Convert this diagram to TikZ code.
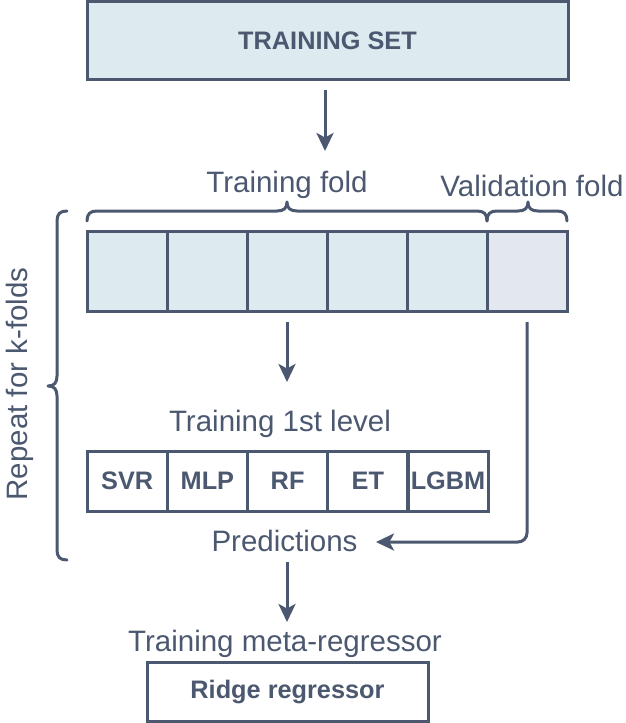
\documentclass[tikz,border=0pt]{standalone}
\usepackage{fontspec}
\setmainfont{Liberation Sans}
\usetikzlibrary{arrows.meta}
\definecolor{ink}{HTML}{4B5870}
\definecolor{cellfill}{HTML}{DDEBF0}
\definecolor{valfill}{HTML}{E3E7EF}
\tikzset{
  box/.style={draw=ink, line width=3pt, inner sep=0pt, outer sep=0pt, text=ink},
  boldtxt/.style={font=\fontsize{25.3}{29}\selectfont\bfseries},
  cellbox/.style={box, fill=cellfill, minimum width=80pt, minimum height=80pt},
  modelbox/.style={box, boldtxt, fill=white, minimum width=80pt, minimum height=60pt},
  lbl/.style={text=ink, inner sep=0pt, anchor=base, font=\fontsize{29.5}{33}\selectfont},
  conn/.style={draw=ink, line width=3pt, -{Stealth[length=18pt, width=17pt, inset=4.5pt]}},
  bracepath/.style={draw=ink, line width=3pt, line cap=round, line join=round}
}
\begin{document}
\begin{tikzpicture}[x=1pt, y=-1pt]
\useasboundingbox (0,0) rectangle (625,723);
% training set
\node[box, boldtxt, fill=cellfill, minimum width=481pt, minimum height=78pt] (trainset) at (327.5,40.5) {TRAINING SET};
\coordinate (a1s) at (325,90);
\coordinate (a1e) at (325,151);
\draw[conn] (a1s) -- (a1e);
% labels
\node[lbl] (tflbl) at (287,192) {Training fold};
\node[lbl] (vflbl) at (532,196) {Validation fold};
% braces
\draw[bracepath] (87,221) .. controls (87,214) and (90,211) .. (97,211) -- (277,211)
  .. controls (284,211) and (287,208) .. (287,202)
  .. controls (287,208) and (290,211) .. (297,211) -- (477,211)
  .. controls (484,211) and (487,214) .. (487,221);
\draw[bracepath] (487,221) .. controls (487,214) and (490,211) .. (497,211) -- (518,211)
  .. controls (525,211) and (528,208) .. (528,202)
  .. controls (528,208) and (531,211) .. (538,211) -- (557,211)
  .. controls (564,211) and (567,214) .. (567,221);
\draw[bracepath] (67,211) .. controls (60,211) and (57,214) .. (57,221) -- (57,376)
  .. controls (57,383) and (54,386) .. (48,386)
  .. controls (54,386) and (57,389) .. (57,396) -- (57,550)
  .. controls (57,557) and (60,560) .. (67,560);
% fold cells
\node[cellbox] (f1) at (127,271) {};
\node[cellbox] (f2) at (207,271) {};
\node[cellbox] (f3) at (287,271) {};
\node[cellbox] (f4) at (367,271) {};
\node[cellbox] (f5) at (447,271) {};
\node[cellbox, fill=valfill] (f6) at (527,271) {};
% arrow to training 1st level
\coordinate (a2e) at (287,382);
\draw[conn] ([yshift=-11pt]f3.south) -- (a2e);
\node[lbl] (l1lbl) at (280,431) {Training 1st level};
% models
\node[modelbox] (m1) at (127.2,481) {SVR};
\node[modelbox] (m2) at (207.4,481) {MLP};
\node[modelbox] (m3) at (287.6,481) {RF};
\node[modelbox] (m4) at (367.8,481) {ET};
\node[modelbox] (m5) at (448,481) {LGBM};
% predictions
\node[lbl] (pred) at (284.5,551) {Predictions};
\coordinate (pe) at (376,542);
\draw[conn, rounded corners=9pt] ([yshift=-11pt]f6.south) |- (pe);
% meta
\coordinate (a3s) at (287,562);
\coordinate (a3e) at (287,622);
\draw[conn] (a3s) -- (a3e);
\node[lbl] (metalbl) at (285,651) {Training meta-regressor};
\node[box, boldtxt, fill=white, minimum width=281pt, minimum height=59pt] (ridge) at (287.5,692) {Ridge regressor};
% repeat label
\node[lbl, anchor=center, rotate=90] (rep) at (20,384) {Repeat for k-folds};
\end{tikzpicture}
\end{document}
